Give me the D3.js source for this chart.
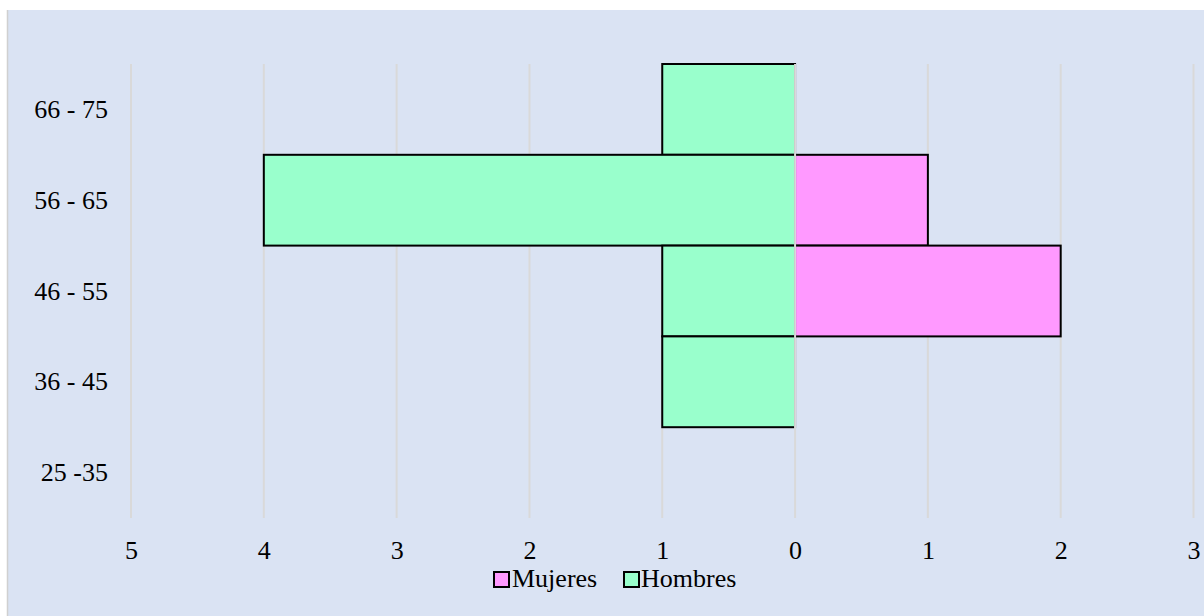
<!DOCTYPE html>
<html>
<head>
<meta charset="utf-8">
<script src="https://cdn.jsdelivr.net/npm/d3@7"></script>
<style>
  html, body { margin: 0; padding: 0; background: #ffffff; }
  svg { display: block; }
  svg text { font-family: "Liberation Serif", "Times New Roman", "DejaVu Serif", serif !important; fill: #000; }
</style>
</head>
<body>
<svg id="chart" width="1204" height="616"></svg>
<script>
// Data
const categories = ["66 - 75", "56 - 65", "46 - 55", "36 - 45", "25 -35"];
const hombres = [1, 4, 1, 1, 0];
const mujeres = [0, 1, 2, 0, 0];
const xTicks = [-5, -4, -3, -2, -1, 0, 1, 2, 3];
const seriesNames = ["Mujeres", "Hombres"];
const seriesColors = ["#ff99ff", "#99ffcc"];

const FONT = "'Liberation Serif', 'Times New Roman', 'DejaVu Serif', serif";
const FS = 26;
const svg = d3.select("#chart");
const W = 1204, H = 616;

// background panel
svg.append("rect").attr("x", 7).attr("y", 10).attr("width", W - 7).attr("height", H - 10)
  .attr("fill", "#dae3f3");
svg.append("line").attr("x1", 7.5).attr("x2", 7.5).attr("y1", 10).attr("y2", H)
  .attr("stroke", "#d0d0d0").attr("stroke-width", 1.5);

const x = d3.scaleLinear().domain([-5, 3]).range([131, 1193.5]);
const y = d3.scaleBand().domain(categories).range([64, 518]).padding(0);

// gridlines
svg.append("g").selectAll("line").data(xTicks.filter(d => d !== 0)).join("line")
  .attr("x1", d => x(d)).attr("x2", d => x(d))
  .attr("y1", y.range()[0]).attr("y2", y.range()[1])
  .attr("stroke", "#d9d9d9").attr("stroke-width", 2);

// bars
const rows = categories.map((c, i) => ({ c, h: hombres[i], m: mujeres[i] }));
const gBars = svg.append("g");
gBars.selectAll("rect.h").data(rows.filter(d => d.h > 0)).join("rect")
  .attr("class", "h")
  .attr("x", d => x(-d.h)).attr("width", d => x(0) - x(-d.h))
  .attr("y", d => y(d.c)).attr("height", y.bandwidth())
  .attr("fill", seriesColors[1]).attr("stroke", "#000").attr("stroke-width", 2);
gBars.selectAll("rect.m").data(rows.filter(d => d.m > 0)).join("rect")
  .attr("class", "m")
  .attr("x", x(0)).attr("width", d => x(d.m) - x(0))
  .attr("y", d => y(d.c)).attr("height", y.bandwidth())
  .attr("fill", seriesColors[0]).attr("stroke", "#000").attr("stroke-width", 2);

// zero axis line on top
svg.append("line").attr("x1", x(0)).attr("x2", x(0))
  .attr("y1", y.range()[0]).attr("y2", y.range()[1])
  .attr("stroke", "#d9d9d9").attr("stroke-width", 2);

// x axis labels
const xAxis = d3.axisBottom(x).tickValues(xTicks).tickFormat(d => Math.abs(d)).tickSize(0).tickPadding(0);
const gx = svg.append("g").attr("transform", "translate(0,542)").call(xAxis)
  .attr("font-family", FONT).attr("font-size", FS);
gx.select(".domain").remove();
gx.selectAll("text").attr("dy", "0.66em");

// y axis labels
const yAxis = d3.axisLeft(y).tickSize(0).tickPadding(0);
const gy = svg.append("g").attr("transform", "translate(108,0)").call(yAxis)
  .attr("font-family", FONT).attr("font-size", FS);
gy.select(".domain").remove();
gy.selectAll("text").attr("dy", "0.33em");

// legend
const legendItems = [
  { name: seriesNames[0], color: seriesColors[0], sx: 494, tx: 512 },
  { name: seriesNames[1], color: seriesColors[1], sx: 624, tx: 641 }
];
const gl = svg.append("g").attr("font-family", FONT).attr("font-size", FS);
legendItems.forEach(it => {
  gl.append("rect").attr("x", it.sx).attr("y", 572).attr("width", 15).attr("height", 15)
    .attr("fill", it.color).attr("stroke", "#000").attr("stroke-width", 2);
  gl.append("text").attr("x", it.tx).attr("y", 587).text(it.name);
});
</script>
</body>
</html>
